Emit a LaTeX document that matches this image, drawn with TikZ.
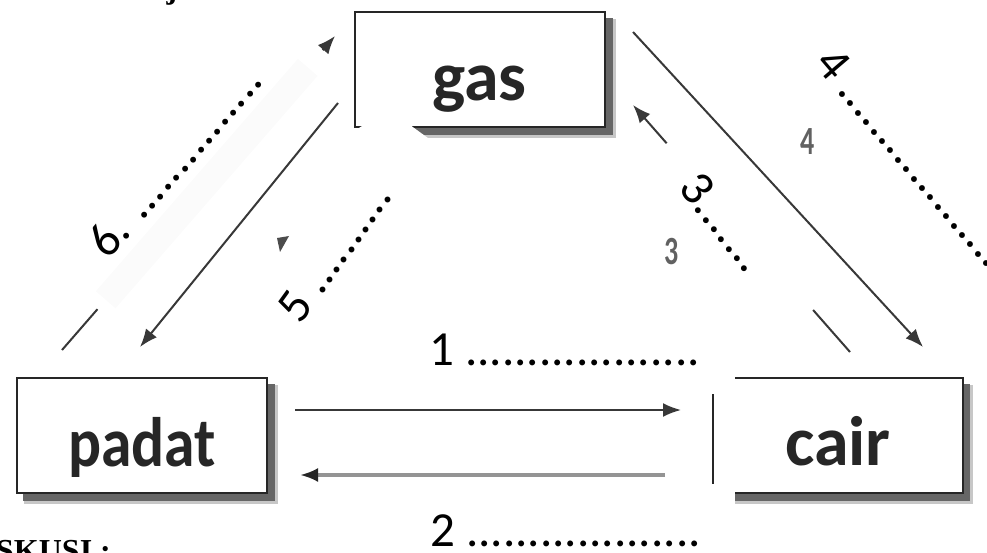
\documentclass[tikz,border=0pt]{standalone}
\usepackage{fontspec}
\setmainfont{Carlito}
\newfontfamily\serifbf{Liberation Serif}
\usetikzlibrary{arrows.meta,calc}
\begin{document}
\begin{tikzpicture}[x=1pt,y=-1pt,
  box/.style={draw=black!85,line width=2pt,fill=white,minimum width=250pt,minimum height=115pt,inner sep=0pt,text height=62pt,text depth=0pt,font=\bfseries\fontsize{70}{70}\selectfont,text=black!85},
  conn/.style={draw=black!78,line width=2pt},
  tip/.style={-{Latex[length=18pt,width=14pt]}},
  dotlbl/.style={anchor=base west,inner sep=0pt,font=\fontsize{49}{49}\selectfont},
  small/.style={font=\bfseries\fontsize{40}{40}\selectfont,text=black!62},
  patch/.style={fill=white,draw=none},
  softshadow/.style={fill=black!22},
  hardshadow/.style={fill=black!60},
  serifbold/.style={font=\serifbf\bfseries\fontsize{32}{32}\selectfont,inner sep=0pt}
]
\useasboundingbox (0,0) rectangle (987,553);

% shadows
\fill[softshadow] (361,19) rectangle (616,138);
\fill[hardshadow] (360,18) rectangle (613,135);
\fill[softshadow] (24,385) rectangle (278,504);
\fill[hardshadow] (23,384) rectangle (275,501);
\fill[softshadow] (719,385) rectangle (973,504);
\fill[hardshadow] (718,384) rectangle (970,501);

% boxes
\node[box] (gas) at (479.5,69.5) {gas};
\node[box] (padat) at (142,435.5) {\scalebox{0.88}[1]{padat}};
\node[box,text height=59pt] (cair) at (838,435.5) {cair};

% white patches covering parts of the scan
\fill[patch] (366,123.5) -- (408,123.5) -- (432,141) -- (395,178) -- (356.5,141) -- (356.5,129.5) -- cycle;
\fill[patch] (699,365) rectangle (735,394);
\fill[patch] (699,484) rectangle (735,515);

% connector end points
\coordinate (a1s) at (295,410);  \coordinate (a1e) at (681,410);
\coordinate (a2s) at (665,475);  \coordinate (a2e) at (300,475);
\coordinate (a5s) at (338,103);  \coordinate (a5e) at (140,347);
\coordinate (a6s) at (62,350);   \coordinate (a6e) at (335,36);
\coordinate (a4s) at (633,32);   \coordinate (a4e) at (923,347);
\coordinate (a3s) at (850,352);  \coordinate (a3e) at (633,105);

% padat -> cair, cair -> padat
\draw[conn,tip] (a1s) -- (a1e);
\draw[draw=black!42,line width=3.4pt,-{Latex[length=18pt,width=14pt,color=black!85]}] (a2s) -- (a2e);

% gas -> padat
\draw[conn,tip] (a5s) -- (a5e);
% padat -> gas (mostly hidden)
\draw[black!1.5,line width=26pt] ($(a6s)!0.16!(a6e)$) -- ($(a6s)!0.9!(a6e)$);
\draw[conn] (a6s) -- ($(a6s)!0.13!(a6e)$);
\draw[conn,tip] ($(a6s)!0.955!(a6e)$) -- (a6e);

% gas -> cair
\draw[conn,tip] (a4s) -- (a4e);
% cair -> gas (partly hidden)
\draw[conn] (a3s) -- ($(a3s)!0.17!(a3e)$);
\draw[conn,tip] ($(a3s)!0.845!(a3e)$) -- (a3e);

% arrow-head fragment
\fill[black!70] (277,238) -- (289,236) -- (280,252) -- cycle;

% small printed numbers
\node[small] (n4) at (808,142) {\scalebox{0.7}[1]{4}};
\node[small] (n3) at (672,252) {\scalebox{0.7}[1]{3}};

% answer lines
\node[dotlbl] (l1) at (429,365) {1 ...................};
\node[dotlbl] (l2) at (430,546) {2 ...................};
\node[dotlbl,rotate=48.8] (l6) at (108,261) {6. ...............};
\node[dotlbl,rotate=54.2] (l5) at (300,326) {5 ..........};
\node[dotlbl,rotate=-51.4] (l3) at (677,188) {3.......};
\node[dotlbl,rotate=-49.6] (l4) at (813,64) {4 ...................};

% cut-off text fragments
\node[serifbold,anchor=base] (tj) at (172,-1) {j};
\node[serifbold,anchor=base west] (ts) at (-4,561) {SKUSI :};
\end{tikzpicture}
\end{document}
